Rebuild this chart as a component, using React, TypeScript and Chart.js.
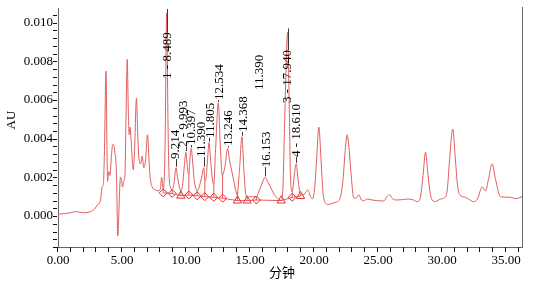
import React, { useEffect, useRef } from "react";
import { Chart, registerables } from "chart.js";

Chart.register(...registerables);

// ---- chromatogram trace (retention time in minutes, absorbance in AU) ----
const retentionTimes: number[] = [
  0, 0.59, 0.98, 1.37, 1.68, 2.15, 2.54, 2.85, 3.11, 3.24, 3.32, 3.45, 3.55,
  3.63, 3.75, 3.83, 3.87, 3.97, 4.06, 4.18, 4.28, 4.38, 4.44, 4.52, 4.57, 4.67, 4.75, 4.8, 4.88, 4.96,
  5.04, 5.14, 5.23, 5.31, 5.41, 5.49, 5.56, 5.64, 5.72, 5.88, 5.98, 6.13, 6.23, 6.31, 6.45, 6.58, 6.7, 6.84, 6.99,
  7.09, 7.17, 7.36, 7.62, 7.85, 8.01, 8.09, 8.22, 8.36, 8.49, 8.59, 8.67, 8.79, 8.92, 9.06, 9.22, 9.34, 9.49, 9.57,
  9.73, 9.87, 9.99, 10.1, 10.22, 10.3, 10.4, 10.51, 10.62, 10.74, 10.87, 11.05, 11.25, 11.39, 11.47, 11.58, 11.67, 11.8, 11.91, 12.03,
  12.17, 12.3, 12.53, 12.66, 12.77, 12.83, 13.05, 13.25, 13.4, 13.55, 13.71, 13.91, 14.0, 14.18, 14.37, 14.52, 14.65, 14.78, 14.96,
  15.2, 15.5, 15.74, 15.98, 16.16, 16.37, 16.6, 16.91, 17.23, 17.44, 17.58, 17.73, 17.94, 18.07, 18.16, 18.3, 18.44, 18.61, 18.75, 18.95,
  19.18, 19.52, 19.73, 19.86, 20.04, 20.2, 20.38, 20.55, 20.7, 20.9, 21.16, 21.45, 21.81, 22.07, 22.27, 22.44, 22.59, 22.75, 22.93, 23.11, 23.28, 23.5, 23.71, 23.89,
  24.16, 24.55, 24.88, 25.45, 25.7, 25.9, 26.13, 26.37, 26.91, 27.38, 27.77, 28.06, 28.32, 28.52, 28.71, 28.91, 29.1, 29.23, 29.49, 29.88,
  30.16, 30.41, 30.59, 30.84, 31.05, 31.21, 31.39, 31.84, 32.07, 32.48, 32.77, 33.14, 33.4, 33.63, 33.92, 34.18, 34.57, 34.96, 35.35, 35.74, 35.98, 36.25,
];
const absorbance: number[] = [
  0.0001, 0.00013, 0.00017, 0.00023, 0.0002, 0.00017, 0.00023, 0.00036, 0.0006, 0.00067, 0.00083, 0.0015, 0.0017,
  0.0034, 0.0075, 0.0034, 0.0018, 0.0023, 0.0021, 0.0032, 0.0037, 0.0036, 0.0033, 0.0029, 0.0021, -0.00103, 0.00005, 0.0011, 0.002, 0.0019,
  0.0015, 0.0018, 0.0021, 0.005, 0.0081, 0.0055, 0.0042, 0.0046, 0.0038, 0.0024, 0.0034, 0.0061, 0.0042, 0.0031, 0.0027, 0.0031, 0.0025, 0.0029, 0.0042,
  0.0032, 0.0022, 0.0015, 0.00135, 0.0013, 0.00145, 0.002, 0.0014, 0.0034, 0.0105, 0.005, 0.0022, 0.0015, 0.00135, 0.0017, 0.0025, 0.002, 0.0015, 0.0013,
  0.0016, 0.0026, 0.0033, 0.0026, 0.0021, 0.0029, 0.0035, 0.0029, 0.002, 0.0015, 0.0013, 0.00155, 0.0021, 0.0025, 0.0018, 0.002, 0.0028, 0.0038, 0.003, 0.0021,
  0.0016, 0.0033, 0.00585, 0.0039, 0.0025, 0.0021, 0.0026, 0.0035, 0.0029, 0.0024, 0.0019, 0.00125, 0.0011, 0.0024, 0.0041, 0.0024, 0.00125, 0.00095, 0.001,
  0.001, 0.001, 0.00135, 0.00176, 0.002, 0.0018, 0.0015, 0.0011, 0.00088, 0.0008, 0.0016, 0.0055, 0.0095, 0.0055, 0.0021, 0.00124, 0.002, 0.0027, 0.0019, 0.0011,
  0.0011, 0.00135, 0.001, 0.00088, 0.00135, 0.0029, 0.0046, 0.0029, 0.00124, 0.00067, 0.0006, 0.00067, 0.00074, 0.001, 0.0019, 0.0034, 0.0042, 0.0034, 0.0019, 0.00093, 0.00093, 0.0011, 0.00083, 0.0008,
  0.00088, 0.00083, 0.0008, 0.00078, 0.001, 0.0011, 0.0009, 0.00083, 0.00085, 0.00088, 0.00083, 0.00074, 0.001, 0.0021, 0.0033, 0.0021, 0.0011, 0.00083, 0.00075, 0.00088,
  0.00093, 0.00135, 0.0029, 0.0045, 0.0029, 0.0016, 0.0011, 0.00097, 0.00088, 0.00074, 0.00088, 0.0015, 0.0013, 0.0019, 0.0027, 0.0019, 0.001, 0.00098, 0.00097, 0.0009, 0.00093, 0.001,
];

// ---- integration baseline markers ----
const markerTimes: number[] = [8.22, 8.92, 9.6, 10.22, 10.87, 11.47, 12.17, 12.86, 14.02, 14.78, 15.5, 17.44, 18.3, 18.95];
const markerBaseline: number[] = [0.0012, 0.00117, 0.00105, 0.00109, 0.00105, 0.001, 0.00097, 0.00092, 0.0008, 0.0008, 0.00083, 0.0008, 0.00097, 0.00103];
const markerShapes: string[] = ["rectRot", "rectRot", "triangle", "rectRot", "rectRot", "rectRot", "rectRot", "rectRot", "triangle", "triangle", "rectRot", "triangle", "rectRot", "triangle"];

// ---- peak labels ----
const labelTexts: string[] = ["1 - 8.489", "9.214", "2 - 9.993", "10.397", "11.390", "11.805", "12.534", "13.246", "14.368", "11.390", "16.153", "3 - 17.940", "4 - 18.610"];
const labelTextTimes: number[] = [8.49, 9.13, 9.77, 10.33, 11.13, 11.82, 12.56, 13.28, 14.39, 15.69, 16.21, 17.88, 18.56];
const labelPeakTimes: (number | null)[] = [8.49, 9.22, 9.99, 10.4, 11.39, 11.8, 12.53, 13.25, 14.37, null, 16.16, 17.94, 18.61];
const labelTextEnds: number[] = [0.0095, 0.00295, 0.00357, 0.00367, 0.00305, 0.00404, 0.006, 0.00362, 0.00435, 0.00652, 0.00253, 0.00859, 0.00305];
const labelBelowApex: boolean[] = [true, false, false, false, false, false, false, false, false, false, false, true, false];

// ---- axes ----
const X_MIN = 0;
const X_MAX = 36.25;
const Y_MIN = -0.0016;
const Y_MAX = 0.01076;
const xTickStep = 1;
const xLabelEvery = 5;
const yTickStep = 0.0004;
const yLabelEvery = 0.002;

const TRACE = "rgb(226,92,92)";
const MARK = "rgb(222,50,50)";
const AXIS = "#666666";
const TICK = "#111111";
const SERIF = "'Liberation Serif', 'Times New Roman', serif";

const n = Math.min(retentionTimes.length, absorbance.length);
const tracePoints = Array.from({ length: n }, (_, i) => ({ x: retentionTimes[i], y: absorbance[i] }));
const markerPoints = markerTimes.map((t, i) => ({ x: t, y: markerBaseline[i] }));

function curveAt(t: number): number {
  for (let i = 1; i < n; i++) {
    if (retentionTimes[i] >= t) {
      const t0 = retentionTimes[i - 1], t1 = retentionTimes[i];
      const f = t1 === t0 ? 0 : (t - t0) / (t1 - t0);
      return absorbance[i - 1] + f * (absorbance[i] - absorbance[i - 1]);
    }
  }
  return absorbance[n - 1];
}

const overlayPlugin = {
  id: "chromOverlay",
  beforeDatasetsDraw(chart: any) {
    const { ctx, scales, chartArea } = chart;
    const xs = scales.x, ys = scales.y;
    ctx.save();
    ctx.beginPath();
    ctx.rect(chartArea.left, chartArea.top, chartArea.right - chartArea.left, chartArea.bottom - chartArea.top);
    ctx.clip();
    ctx.strokeStyle = MARK;
    ctx.lineWidth = 0.8;
    markerTimes.forEach((t, i) => {
      const px = xs.getPixelForValue(t);
      ctx.beginPath();
      ctx.moveTo(px, ys.getPixelForValue(markerBaseline[i]));
      ctx.lineTo(px, ys.getPixelForValue(curveAt(t)));
      ctx.stroke();
    });
    ctx.restore();
  },
  afterDraw(chart: any) {
    const ctx: CanvasRenderingContext2D = chart.ctx;
    const xs = chart.scales.x, ys = chart.scales.y;
    const area = chart.chartArea;
    ctx.save();
    ctx.fillStyle = AXIS;
    // right frame line
    ctx.fillRect(Math.round(area.right), Math.round(area.top) - 1, 1, Math.round(area.bottom - area.top) + 1);

    // tick marks at every step
    ctx.fillStyle = TICK;
    const bottom = Math.round(area.bottom);
    const left = Math.round(area.left);
    const nx = Math.floor((X_MAX - X_MIN) / xTickStep + 1e-6);
    for (let k = 0; k <= nx; k++) {
      const px = Math.round(xs.getPixelForValue(X_MIN + k * xTickStep));
      ctx.fillRect(px - 1, bottom, 1, 5);
    }
    const k0 = Math.ceil(Y_MIN / yTickStep - 1e-6);
    const k1 = Math.floor(Y_MAX / yTickStep + 1e-6);
    for (let k = k0; k <= k1; k++) {
      const py = Math.round(ys.getPixelForValue(k * yTickStep));
      ctx.fillRect(left - 5, py, 4, 1);
    }

    // leaders
    ctx.strokeStyle = "#3a3a3a";
    ctx.lineWidth = 1;
    labelPeakTimes.forEach((pt, i) => {
      if (pt === null) return;
      const px = Math.round(xs.getPixelForValue(pt)) + 0.5;
      const apex = labelBelowApex[i] ? ys.getPixelForValue(curveAt(pt)) - 4 : ys.getPixelForValue(curveAt(pt)) - 1;
      ctx.beginPath();
      ctx.moveTo(px, apex);
      ctx.lineTo(px, ys.getPixelForValue(labelTextEnds[i]));
      ctx.stroke();
    });

    // peak labels (rotated)
    ctx.fillStyle = "#000";
    ctx.font = `13px ${SERIF}`;
    ctx.textBaseline = "middle";
    labelTexts.forEach((txt, i) => {
      const px = xs.getPixelForValue(labelTextTimes[i]);
      const py = ys.getPixelForValue(labelTextEnds[i]);
      ctx.save();
      ctx.translate(px, py);
      ctx.rotate(-Math.PI / 2);
      ctx.textAlign = labelBelowApex[i] ? "right" : "left";
      ctx.fillText(txt, 0, 1);
      ctx.restore();
    });

    // axis titles
    ctx.fillStyle = "#000";
    ctx.font = `13px 'Noto Sans CJK SC', sans-serif`;
    ctx.textAlign = "center";
    ctx.textBaseline = "middle";
    ctx.fillText("分钟", xs.getPixelForValue(17.5), 272);
    ctx.save();
    ctx.font = `13px ${SERIF}`;
    ctx.translate(12, 120);
    ctx.rotate(-Math.PI / 2);
    ctx.fillText("AU", 0, 0);
    ctx.restore();
    ctx.restore();
  },
};

export default function App() {
  const canvasRef = useRef<HTMLCanvasElement | null>(null);

  useEffect(() => {
    if (!canvasRef.current) return;
    Chart.defaults.font.family = SERIF;
    Chart.defaults.font.size = 13;
    Chart.defaults.color = "#000";
    const chart = new Chart(canvasRef.current, {
      type: "line",
      data: {
        datasets: [
          {
            label: "trace",
            data: tracePoints,
            borderColor: TRACE,
            borderWidth: 1,
            pointRadius: 0,
            cubicInterpolationMode: "monotone",
            order: 2,
          } as any,
          {
            label: "baseline",
            data: markerPoints,
            borderColor: MARK,
            borderWidth: 0.8,
            pointStyle: markerShapes as any,
            pointRadius: markerShapes.map((s) => (s === "triangle" ? 4.8 : 4)),
            pointBorderColor: MARK,
            pointBackgroundColor: "rgba(255,255,255,0)",
            pointBorderWidth: 1,
            order: 1,
          } as any,
        ],
      },
      options: {
        responsive: false,
        animation: false,
        devicePixelRatio: 1,
        events: [],
        layout: { padding: { left: 0, right: 16, top: 8, bottom: 0 } },
        plugins: { legend: { display: false }, tooltip: { enabled: false } },
        scales: {
          x: {
            type: "linear",
            min: X_MIN,
            max: X_MAX,
            afterFit: (s: any) => { s.height = 38; },
            grid: { display: false, drawTicks: true, tickLength: 5 },
            border: { display: true, color: AXIS },
            ticks: {
              stepSize: xTickStep,
              autoSkip: false,
              maxRotation: 0,
              minRotation: 0,
              includeBounds: false,
              padding: 1,
              color: "#000",
              font: { size: 13, family: SERIF },
              callback: (v: any) => (Math.round(Number(v)) % xLabelEvery === 0 ? Number(v).toFixed(2) : ""),
            },
          },
          y: {
            type: "linear",
            min: Y_MIN,
            max: Y_MAX,
            afterFit: (s: any) => { s.width = 58; },
            grid: { display: false, drawTicks: true, tickLength: 5 },
            border: { display: true, color: AXIS },
            ticks: {
              stepSize: yTickStep,
              autoSkip: false,
              includeBounds: false,
              padding: 0,
              color: "#000",
              font: { size: 13, family: SERIF },
              callback: (v: any) => {
                const k = Math.round(Number(v) / yTickStep);
                const every = Math.round(yLabelEvery / yTickStep);
                return k >= 0 && k % every === 0 ? (k * yTickStep).toFixed(3) : "";
              },
            },
          },
        },
      } as any,
      plugins: [overlayPlugin],
    });
    return () => chart.destroy();
  }, []);

  return (
    <div style={{ position: "absolute", left: 0, top: 0, width: 538, height: 285, background: "#fff" }}>
      <canvas ref={canvasRef} width={538} height={285} style={{ display: "block" }} />
    </div>
  );
}
